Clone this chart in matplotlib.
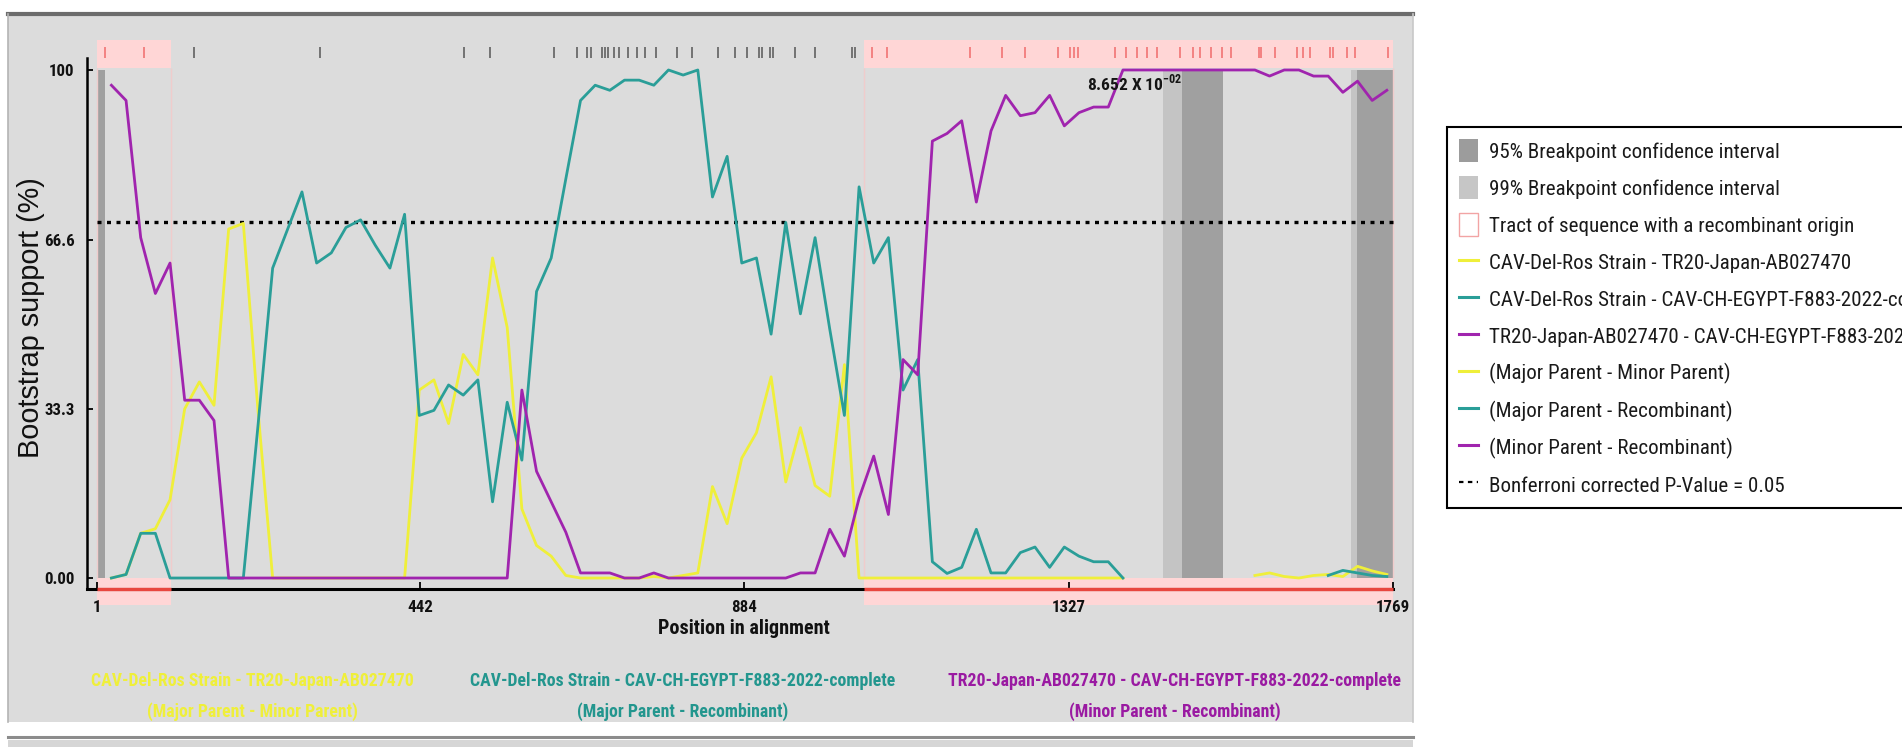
import os
import numpy as np
import matplotlib
matplotlib.use('Agg')
import matplotlib.pyplot as plt
from matplotlib import font_manager as fm
from matplotlib.patches import Rectangle, Patch
from matplotlib.lines import Line2D

# ---------------- data ----------------
positions = list(range(21, 1770, 20))          # window centres (88)

yellow_vals = [0, 0.7, 8.8, 9.7, 15.4, 33.3, 38.6, 34, 68.7, 69.8, 33,
               0, 0, 0, 0, 0, 0, 0, 0, 0, 0,
               37, 39, 30.4, 44, 40, 63, 49.3, 13.6, 6.4, 4.3,
               0.5, 0, 0, 0, 0, 0, 0.3, 0, 0.5, 1,
               18, 10.7, 23.6, 28.6, 39.6, 18.9, 29.6, 18.2, 16.1, 42,
               0, 0, 0, 0, 0, 0, 0, 0, 0, 0, 0, 0, 0, 0, 0, 0, 0, 0, 0,
               np.nan, np.nan, np.nan, np.nan, np.nan, np.nan, np.nan, np.nan,
               0.5, 1, 0.3, 0, 0.5, 0.7, 0.3, 2.3, 1.4, 0.7]

teal_vals = [0, 0.7, 8.8, 8.8, 0, 0, 0, 0, 0, 0,
             30, 61, 68.5, 76, 62, 64, 69, 70.5, 65.5, 61, 71.6,
             32, 33, 38, 36, 39, 15, 34.6, 23.2, 56.4, 63, 78.6,
             94, 97, 96, 98, 98, 97, 100, 99, 100,
             75, 83, 62, 63, 48, 70, 52, 67, 49, 32,
             77, 62, 67, 37, 43, 3.2, 0.9, 2.1, 9.6,
             1, 1, 5, 6.1, 2.1, 6.1, 4.3, 3.2, 3.2, 0,
             np.nan, np.nan, np.nan, np.nan, np.nan, np.nan, np.nan,
             np.nan, np.nan, np.nan, np.nan, np.nan, np.nan,
             0.5, 1.5, 1, 0.5, 0.3]

purple_vals = [97, 94, 67, 56, 62, 35, 35, 31,
               0, 0, 0, 0, 0, 0, 0, 0, 0, 0, 0, 0, 0, 0, 0, 0, 0, 0, 0, 0,
               37, 21, 15, 9, 1, 1, 1,
               0, 0, 1, 0, 0, 0, 0, 0, 0, 0, 0, 0,
               1, 1,
               9.6, 4.3, 15.7, 24, 12.5, 43, 40,
               86, 87.5, 90, 74, 88, 95, 91, 91.6,
               95, 89, 91.6, 92.7, 92.7,
               100, 100, 100, 100, 100, 100, 100, 100, 100, 100,
               98.8, 100, 100, 98.8, 98.8, 95.6, 97.8, 94, 96]

xtick_vals = [1, 442, 884, 1327, 1769]
xtick_labels = ['1', '442', '884', '1327', '1769']
ytick_vals = [0, 33.3, 66.6, 100]
ytick_labels = ['0.00', '33.3', '66.6', '100']
bonferroni_level = 70
tracts = [(1, 103), (1048, 1769)]
ci95 = [(1, 12), (1481, 1537), (1720, 1769)]
ci99 = [(1455, 1481), (1712, 1720)]
sites_outside = [134, 305, 502, 538, 625, 656, 670, 675, 690, 694, 699, 706,
                 713, 726, 738, 749, 764, 792, 813, 849, 872, 888, 905, 908,
                 920, 923, 954, 981, 1031, 1035]
sites_inside = [12, 65, 1058, 1079, 1192, 1236, 1267, 1313, 1329, 1334, 1339,
                1390, 1405, 1420, 1434, 1447, 1479, 1497, 1506, 1521, 1536,
                1549, 1586, 1590, 1608, 1638, 1647, 1656, 1683, 1688, 1706,
                1718, 1763]
pvalue_text = r'8.652 X 10$^{\mathregular{-02}}$'
pvalue_pos = (1352, 97.5)

pair_line1 = ['CAV-Del-Ros Strain - TR20-Japan-AB027470',
              'CAV-Del-Ros Strain - CAV-CH-EGYPT-F883-2022-complete',
              'TR20-Japan-AB027470 - CAV-CH-EGYPT-F883-2022-complete']
pair_line2 = ['(Major Parent - Minor Parent)',
              '(Major Parent - Recombinant)',
              '(Minor Parent - Recombinant)']
legend_labels = ['95% Breakpoint confidence interval',
                 '99% Breakpoint confidence interval',
                 'Tract of sequence with a recombinant origin',
                 'CAV-Del-Ros Strain - TR20-Japan-AB027470',
                 'CAV-Del-Ros Strain - CAV-CH-EGYPT-F883-2022-complete',
                 'TR20-Japan-AB027470 - CAV-CH-EGYPT-F883-2022-complete',
                 '(Major Parent - Minor Parent)',
                 '(Major Parent - Recombinant)',
                 '(Minor Parent - Recombinant)',
                 'Bonferroni corrected P-Value = 0.05']

# ---------------- style ----------------
YEL = '#efef3a'
TEAL = '#2a9e98'
PURP = '#a024ae'
PINK = '#ffd6d6'
RED = '#e8463e'
BG = '#dcdcdc'


def pick_condensed():
    cands = [('Liberation Sans Narrow', 'normal'),
             ('Roboto Condensed', 'normal'),
             ('Open Sans Condensed', 'normal'),
             ('Noto Sans', 'condensed'),
             ('Noto Sans', 'semi-condensed'),
             ('DejaVu Sans', 'condensed'),
             ('Open Sans', 'condensed'),
             ('Roboto', 'condensed')]
    for fam, st in cands:
        try:
            p = fm.findfont(fm.FontProperties(family=fam, stretch=st),
                            fallback_to_default=False)
        except Exception:
            continue
        n = os.path.basename(p).lower()
        if 'narrow' in n or 'cond' in n:
            return fam, st
    return 'Liberation Sans', 'normal'


NFAM, NSTR = pick_condensed()
NK = dict(fontfamily=NFAM, fontstretch=NSTR)
REG = 'Liberation Sans'

W, H = 1902, 753
fig = plt.figure(figsize=(W / 100, H / 100), dpi=100)
fig.patch.set_facecolor('white')


def fx(px):
    return px / W


def fy(py):
    return 1 - py / H


# panel background and borders
fig.add_artist(Rectangle((fx(8), fy(722)), (1413 - 8) / W, (722 - 12) / H,
                         transform=fig.transFigure, facecolor=BG,
                         edgecolor='none', zorder=-5))
fig.add_artist(Line2D([fx(8), fx(1413)], [fy(14), fy(14)], transform=fig.transFigure,
                      color='#6c6c6c', lw=3, zorder=-4))
fig.add_artist(Line2D([fx(8), fx(8)], [fy(14), fy(722)], transform=fig.transFigure,
                      color='#b4b4b4', lw=1.2, zorder=-4))
fig.add_artist(Line2D([fx(1413), fx(1413)], [fy(14), fy(722)], transform=fig.transFigure,
                      color='#c8c8c8', lw=1.2, zorder=-4))
fig.add_artist(Line2D([fx(8), fx(1413)], [fy(737), fy(737)], transform=fig.transFigure,
                      color='#8c8c8c', lw=2.2, zorder=-4))
fig.add_artist(Rectangle((fx(8), fy(747)), (1413 - 8) / W, 7 / H,
                         transform=fig.transFigure, facecolor='#d6d6d6',
                         edgecolor='none', zorder=-5))

x_lo, x_hi = -15, 1775
y_lo, y_hi = -6, 106
ax = fig.add_axes([fx(85), fy(608.5), (1397.1 - 85) / W, (608.5 - 39.5) / H])
ax.set_xlim(x_lo, x_hi)
ax.set_ylim(y_lo, y_hi)
ax.patch.set_alpha(0)

# confidence intervals
for a, b in ci99:
    ax.fill_between([a, b], 0, 100, color='#c4c4c4', lw=0, zorder=1)
for a, b in ci95:
    ax.fill_between([a, b], 0, 100, color='#a0a0a0', lw=0, zorder=1)

# recombinant tracts
for a, b in tracts:
    ax.fill_between([a, b], 100.3, 105.9, color=PINK, lw=0, zorder=1)
    ax.fill_between([a, b], -5.3, 0, color=PINK, lw=0, zorder=1)
    ax.vlines([a, b], 0, 100.3, color='#f0cccc', lw=1, zorder=1)

# informative sites
ax.vlines(sites_outside, 102.4, 104.6, color='#6a6a6a', lw=1.3, zorder=2)
ax.vlines(sites_inside, 102.4, 104.6, color='#f27c7c', lw=1.3, zorder=2)

# Bonferroni
ax.plot([1, 1769], [bonferroni_level, bonferroni_level], color='black', lw=2.4,
        ls=(0, (1.2, 1.65)), zorder=3)

# series
ax.plot(positions, yellow_vals, color=YEL, lw=2, zorder=4)
ax.plot(positions, teal_vals, color=TEAL, lw=2, zorder=5)
ax.plot(positions, purple_vals, color=PURP, lw=2, zorder=6)

# axes
for s in ['top', 'right']:
    ax.spines[s].set_visible(False)
ax.spines['left'].set_position(('data', -12))
ax.spines['left'].set_bounds(-2.2, 102.4)
ax.spines['bottom'].set_position(('data', -2.2))
ax.spines['bottom'].set_bounds(-12, 1769)
ax.spines['left'].set_linewidth(1.8)
ax.spines['bottom'].set_linewidth(2.2)
for a, b in tracts:
    ax.hlines(-2.2, a, b, color=RED, lw=2.4, zorder=3)

fig.canvas.draw()
R = fig.canvas.get_renderer()


def size_for(s, target_px, weight='normal', kw=None, rotation=0, base=12.0):
    kw = NK if kw is None else kw
    t = fig.text(0.1, 0.1, s, fontsize=base, fontweight=weight, rotation=rotation, **kw)
    bb = t.get_window_extent(R)
    t.remove()
    cur = bb.height if rotation == 90 else bb.width
    return base * target_px / cur


tick_fs = size_for('1327', 34, 'bold')
lab_fs = size_for('Position in alignment', 172, 'bold')
ylab_fs = size_for('Bootstrap support (%)', 282, 'normal', kw=dict(fontfamily=REG),
                   rotation=90)
pair_fs = size_for(pair_line1[2], 453, 'bold')
leg_fs = size_for(legend_labels[2], 365, 'normal')
pv_fs = size_for(pvalue_text, 95, 'bold')

ax.set_xticks(xtick_vals, xtick_labels)
ax.set_yticks(ytick_vals, ytick_labels)
ax.tick_params(axis='x', direction='in', length=5, width=1.3, pad=8)
ax.tick_params(axis='y', direction='in', length=4, width=1.3, pad=9)
for lab in ax.get_xticklabels() + ax.get_yticklabels():
    lab.set_fontfamily(NFAM)
    lab.set_fontstretch(NSTR)
    lab.set_fontweight('bold')
    lab.set_fontsize(tick_fs)
    lab.set_color('#111111')
for v, t in zip(xtick_vals, ax.xaxis.get_major_ticks()):
    if any(a <= v <= b for a, b in tracts[:1]) or (tracts[1][0] <= v < tracts[1][1]):
        t.tick1line.set_color(RED)

ax.text(884, -10, 'Position in alignment', ha='center', va='center',
        fontsize=lab_fs, fontweight='bold', color='#111111', clip_on=False, **NK)
fig.text(fx(31), fy(318), 'Bootstrap support (%)', rotation=90, ha='center',
         va='center', fontsize=ylab_fs, fontfamily=REG, color='#111111')

ax.text(pvalue_pos[0], pvalue_pos[1], pvalue_text, ha='left', va='center',
        fontsize=pv_fs, fontweight='bold', color='#151515', zorder=7, **NK)

pair_cols = [YEL, '#23968e', '#9a1aa2']
pair_cx = [252, 683, 1175]
for l1, l2, c, cx in zip(pair_line1, pair_line2, pair_cols, pair_cx):
    fig.text(fx(cx), fy(681), l1, ha='center', va='center', fontsize=pair_fs,
             fontweight='bold', color=c, **NK)
    fig.text(fx(cx), fy(712), l2, ha='center', va='center', fontsize=pair_fs,
             fontweight='bold', color=c, **NK)

handles = [Patch(facecolor='#9c9c9c', edgecolor='none'),
           Patch(facecolor='#c6c6c6', edgecolor='none'),
           Patch(facecolor='white', edgecolor='#f2a4a4', lw=1),
           Line2D([], [], color=YEL, lw=2.2),
           Line2D([], [], color=TEAL, lw=2.2),
           Line2D([], [], color=PURP, lw=2.2),
           Line2D([], [], color=YEL, lw=2.2),
           Line2D([], [], color=TEAL, lw=2.2),
           Line2D([], [], color=PURP, lw=2.2),
           Line2D([], [], color='black', lw=1.6, ls=(0, (2, 2)))]

LEG_TOP = 127          # px from top
PITCH = 37             # px between entries
FIRST = 152            # px centre of first entry


def make_legend(ls, bp):
    lg = fig.legend(handles, legend_labels, loc='upper left',
                    bbox_to_anchor=(fx(1447), fy(LEG_TOP)),
                    prop=fm.FontProperties(family=NFAM, stretch=NSTR, size=leg_fs),
                    frameon=True, fancybox=False, edgecolor='black',
                    facecolor='white', framealpha=1, handlelength=0.9,
                    handleheight=1.3, handletextpad=0.5, labelspacing=ls,
                    borderpad=bp, borderaxespad=0)
    lg.get_frame().set_linewidth(1.5)
    for t in lg.get_texts():
        t.set_color('#1a1a1a')
    return lg


fs_px = leg_fs * 100 / 72
ls, bp = 0.5, 0.5
leg = make_legend(ls, bp)
for _ in range(2):
    fig.canvas.draw()
    tx = leg.get_texts()
    b0 = tx[0].get_window_extent(R)
    b1 = tx[1].get_window_extent(R)
    pitch = (b0.y0 + b0.y1) / 2 - (b1.y0 + b1.y1) / 2
    first = H - (b0.y0 + b0.y1) / 2
    ls = max(0.0, ls + (PITCH - pitch) / fs_px)
    bp = max(0.1, bp + (FIRST - first) / fs_px)
    leg.remove()
    leg = make_legend(ls, bp)

fig.savefig('out.png', dpi=100, facecolor='white')
